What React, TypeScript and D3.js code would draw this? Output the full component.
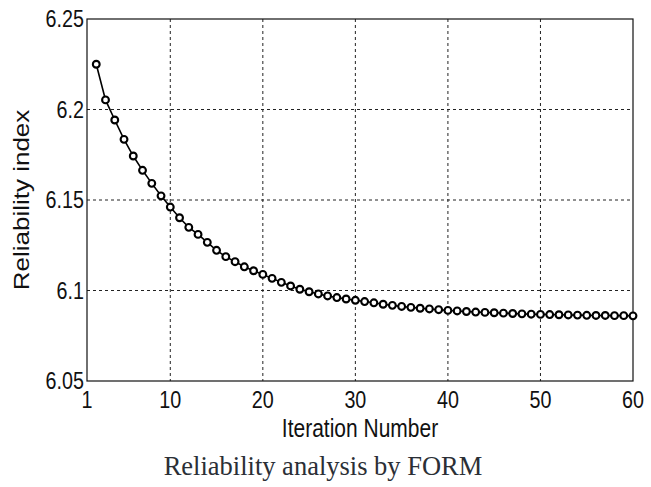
import * as d3 from "d3";

// iteration numbers (first plotted iterate is 2) and reliability index beta
const iterations = d3.range(2, 61);
const beta = [
  6.2250, 6.2053, 6.1942, 6.1835, 6.1743, 6.1664, 6.1592, 6.1523, 6.1461, 6.1402,
  6.1349, 6.1310, 6.1266, 6.1222, 6.1187, 6.1159, 6.1131, 6.1109, 6.1089, 6.1067,
  6.1045, 6.1025, 6.1007, 6.0993, 6.0981, 6.0970, 6.0961, 6.0953, 6.0946, 6.0939,
  6.0932, 6.0924, 6.0918, 6.0912, 6.0907, 6.0902, 6.0898, 6.0894, 6.0890, 6.0887,
  6.0884, 6.0881, 6.0879, 6.0877, 6.0875, 6.0873, 6.0871, 6.0869, 6.0868, 6.0867,
  6.0866, 6.0865, 6.0864, 6.0863, 6.0862, 6.0862, 6.0861, 6.0861, 6.0860,
];
const xTicks = [1, 10, 20, 30, 40, 50, 60];
const yTicks = [6.05, 6.1, 6.15, 6.2, 6.25];

const W = 651;
const H = 487;
const plot = { left: 87, right: 633, top: 19, bottom: 381 };
const sx = 0.84; // figure text looks horizontally squeezed
const sans = "'Liberation Sans', Arial, sans-serif";

export default function App() {
  const x = d3.scaleLinear().domain([1, 60]).range([plot.left, plot.right]);
  const y = d3.scaleLinear().domain([6.05, 6.25]).range([plot.bottom, plot.top]);
  const data = iterations.map((it, i) => ({ it, b: beta[i] }));
  const line = d3.line<{ it: number; b: number }>().x((d) => x(d.it)).y((d) => y(d.b));

  return (
    <svg width={W} height={H} style={{ position: "absolute", left: 0, top: 0, background: "#fff" }}>
      {/* grid */}
      {xTicks.slice(1, -1).map((t) => (
        <line key={"gx" + t} x1={x(t)} x2={x(t)} y1={plot.top} y2={plot.bottom}
          stroke="#222" strokeWidth={1} strokeDasharray="3,3" />
      ))}
      {yTicks.slice(1, -1).map((t) => (
        <line key={"gy" + t} x1={plot.left} x2={plot.right} y1={y(t)} y2={y(t)}
          stroke="#222" strokeWidth={1} strokeDasharray="3,3" />
      ))}
      {/* axes box */}
      <rect x={plot.left} y={plot.top} width={plot.right - plot.left} height={plot.bottom - plot.top}
        fill="none" stroke="#111" strokeWidth={1.2} />

      {/* series */}
      <path d={line(data) || ""} fill="none" stroke="#000" strokeWidth={1.6} />
      {data.map((d) => (
        <circle key={d.it} cx={x(d.it)} cy={y(d.b)} r={3.4} fill="#fff" stroke="#000" strokeWidth={2.1} />
      ))}

      {/* tick labels */}
      {xTicks.map((t) => (
        <text key={"tx" + t} transform={`translate(${x(t)},408) scale(${sx},1)`} textAnchor="middle"
          fontFamily={sans} fontSize={23.5} fill="#111">{t}</text>
      ))}
      {yTicks.map((t) => (
        <text key={"ty" + t} transform={`translate(84,${y(t) + 8}) scale(${sx},1)`} textAnchor="end"
          fontFamily={sans} fontSize={23.5} fill="#111">{t}</text>
      ))}

      {/* axis labels */}
      <text transform={`translate(${(plot.left + plot.right) / 2},437) scale(${sx},1)`} textAnchor="middle"
        fontFamily={sans} fontSize={25} fill="#111">Iteration Number</text>
      <text transform={`translate(29,200) scale(${sx},1) rotate(-90)`} textAnchor="middle"
        fontFamily={sans} fontSize={26} fill="#111">Reliability index</text>

      {/* caption */}
      <text x={323} y={475} textAnchor="middle" fontFamily="'Liberation Serif', 'Times New Roman', serif"
        fontSize={26.5} fill="#2b2f36">Reliability analysis by FORM</text>
    </svg>
  );
}
